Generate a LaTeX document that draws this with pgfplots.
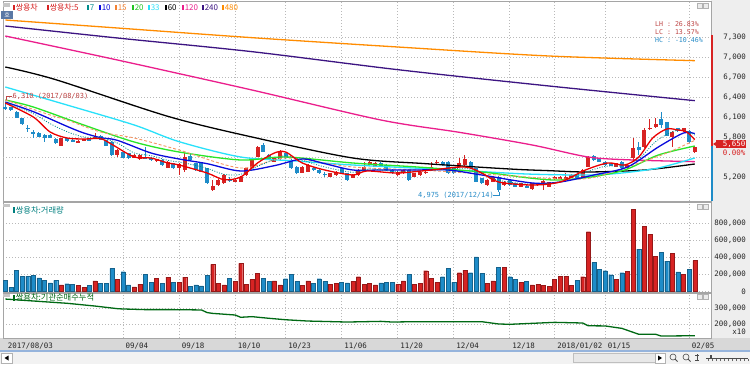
\documentclass[border=0pt]{standalone}
\usepackage{pgfplots}
\pgfplotsset{compat=1.18}
\usepackage{pgfplotstable}
\usepackage{fontspec}
\setmainfont{DejaVu Sans}
\newfontfamily\kr{Noto Sans CJK KR}
\newfontfamily\mono{DejaVu Sans Mono}
\newcommand{\fsz}[1]{\fontsize{#1}{#1}\selectfont}
\definecolor{upred}{RGB}{215,35,35}
\definecolor{dnblue}{RGB}{30,140,200}
\definecolor{ma5}{RGB}{235,0,0}
\definecolor{ma7}{RGB}{0,140,140}
\definecolor{ma10}{RGB}{10,10,220}
\definecolor{ma15}{RGB}{245,150,100}
\definecolor{leg15}{RGB}{245,130,50}
\definecolor{ma20}{RGB}{40,230,40}
\definecolor{ma33}{RGB}{40,225,250}
\definecolor{ma120}{RGB}{235,30,140}
\definecolor{ma240}{RGB}{60,20,130}
\definecolor{ma480}{RGB}{255,140,0}
\definecolor{cumgreen}{RGB}{0,105,20}
\definecolor{gridc}{RGB}{185,185,185}
\definecolor{panelline}{RGB}{165,165,165}
\definecolor{rightbg}{RGB}{238,238,238}
\definecolor{bandbg}{RGB}{216,216,216}
\definecolor{annred}{RGB}{190,70,70}
\definecolor{annblue}{RGB}{40,140,200}
\definecolor{titleteal}{RGB}{0,128,128}
\definecolor{blueline}{RGB}{150,180,220}
\definecolor{scrollbg}{RGB}{242,242,242}
\definecolor{trackbg}{RGB}{232,232,232}
\definecolor{hobg}{RGB}{90,120,165}

\pgfplotstableread{
i o h l c v u
0 6255 6310 6210 6220 130000 0
1 6245 6255 6195 6205 51000 0
2 6180 6190 6080 6090 248000 0
3 6080 6090 5980 5990 177000 0
4 5940 5980 5880 5920 177000 0
5 5870 5905 5790 5840 189000 0
6 5855 5870 5795 5805 161000 0
7 5830 5840 5730 5790 130000 0
8 5830 5840 5780 5790 102000 0
9 5765 5780 5695 5705 130000 0
10 5670 5790 5660 5780 79000 1
11 5780 5790 5730 5740 91000 0
12 5755 5765 5720 5730 87000 0
13 5720 5760 5710 5745 71000 1
14 5740 5775 5735 5765 47000 1
15 5765 5775 5740 5745 71000 0
16 5770 5855 5765 5805 126000 1
17 5820 5830 5750 5755 95000 0
18 5755 5760 5660 5670 95000 0
19 5730 5740 5520 5530 272000 0
20 5530 5625 5505 5605 142000 1
21 5570 5580 5480 5490 232000 0
22 5555 5565 5470 5480 79000 0
23 5490 5545 5480 5530 55000 1
24 5470 5540 5460 5530 87000 1
25 5505 5655 5470 5480 205000 0
26 5490 5500 5445 5455 110000 0
27 5440 5475 5430 5465 154000 1
28 5455 5465 5370 5380 99000 0
29 5340 5440 5330 5430 169000 1
30 5405 5415 5320 5330 110000 0
31 5330 5410 5230 5395 110000 1
32 5305 5555 5280 5495 169000 1
33 5515 5545 5445 5455 59000 0
34 5405 5415 5295 5305 79000 0
35 5405 5420 5270 5280 67000 0
36 5330 5340 5090 5105 193000 0
37 5005 5155 4995 5065 319000 1
38 5080 5170 5070 5155 95000 1
39 5105 5240 5095 5230 79000 1
40 5165 5205 5130 5145 154000 0
41 5130 5165 5120 5155 122000 1
42 5130 5215 5120 5205 331000 1
43 5230 5340 5220 5330 87000 1
44 5330 5480 5320 5465 142000 1
45 5505 5665 5495 5655 213000 1
46 5680 5705 5570 5580 158000 0
47 5530 5545 5455 5465 118000 0
48 5430 5490 5420 5480 126000 1
49 5465 5605 5455 5580 79000 1
50 5555 5565 5470 5480 150000 0
51 5455 5465 5320 5330 205000 0
52 5355 5365 5245 5255 118000 0
53 5265 5365 5255 5355 71000 1
54 5280 5390 5270 5380 126000 1
55 5330 5345 5290 5305 95000 0
56 5305 5315 5245 5255 150000 0
57 5250 5280 5205 5240 118000 0
58 5205 5265 5195 5255 87000 1
59 5230 5290 5220 5280 95000 1
60 5330 5340 5245 5255 106000 0
61 5255 5265 5145 5155 102000 0
62 5190 5245 5180 5230 118000 1
63 5230 5315 5220 5300 173000 1
64 5305 5430 5295 5355 87000 1
65 5380 5440 5370 5430 95000 1
66 5355 5420 5345 5405 79000 1
67 5405 5420 5355 5365 102000 0
68 5380 5390 5295 5305 110000 0
69 5305 5315 5245 5255 110000 0
70 5230 5290 5220 5280 83000 1
71 5255 5315 5245 5305 126000 1
72 5305 5315 5145 5155 205000 0
73 5205 5265 5195 5255 83000 1
74 5230 5290 5220 5280 95000 1
75 5255 5290 5245 5280 244000 1
76 5305 5430 5295 5355 158000 1
77 5405 5455 5390 5430 106000 1
78 5430 5440 5370 5380 173000 0
79 5430 5440 5245 5255 268000 0
80 5330 5340 5245 5255 106000 0
81 5355 5480 5345 5415 221000 1
82 5380 5530 5370 5465 252000 1
83 5430 5440 5320 5330 221000 0
84 5330 5340 5120 5130 406000 0
85 5180 5190 5095 5105 213000 0
86 5080 5165 5070 5155 95000 1
87 5130 5215 5120 5205 126000 1
88 5205 5215 4975 5005 280000 0
89 5080 5140 5070 5130 284000 1
90 5155 5165 5070 5080 173000 0
91 5105 5115 5045 5055 142000 0
92 5055 5115 5045 5105 106000 1
93 5060 5075 5040 5050 118000 0
94 5020 5115 5010 5105 79000 1
95 5080 5115 5070 5105 83000 1
96 5105 5150 5005 5140 75000 1
97 5055 5130 5045 5120 63000 1
98 5170 5215 5160 5205 142000 1
99 5180 5215 5170 5205 181000 1
100 5180 5255 5155 5195 181000 1
101 5190 5240 5180 5230 71000 1
102 5230 5240 5170 5180 130000 0
103 5205 5315 5195 5305 173000 1
104 5355 5515 5345 5505 701000 1
105 5520 5530 5445 5455 339000 0
106 5480 5490 5420 5430 260000 0
107 5430 5440 5370 5380 244000 0
108 5405 5415 5360 5370 197000 0
109 5355 5415 5345 5405 142000 1
110 5430 5440 5320 5330 221000 0
111 5330 5390 5320 5380 236000 1
112 5480 5790 5430 5630 961000 1
113 5655 5730 5530 5605 496000 0
114 5655 5930 5640 5905 764000 1
115 5920 6070 5905 5940 674000 1
116 5955 6080 5930 5990 410000 1
117 6070 6180 5930 5980 457000 0
118 6020 6030 5810 5820 355000 0
119 5805 5890 5655 5880 449000 1
120 5930 5940 5880 5890 229000 0
121 5890 5940 5880 5930 205000 1
122 5890 5900 5710 5720 260000 0
123 5570 5660 5560 5650 363000 1
}\candles

\pgfplotsset{
  panel/.style={
    scale only axis, anchor=south west, width=708bp,
    xmin=-0.41, xmax=125.9,
    axis line style={draw=panelline, line width=0.6bp},
    major tick length=0pt,
    xtick={21,31,41,50,60,70,80,90,98,107,122},
    xticklabels={},
    xmajorgrids, ymajorgrids,
    grid style={gridc, line width=0.6bp, dash pattern=on 1bp off 2bp},
    yticklabel pos=right,
    scaled y ticks=false,
    yticklabel style={font=\mono\fsz{7.5}, text=black!85, anchor=east, inner sep=0pt, xshift=35bp,
      /pgf/number format/.cd, fixed, precision=0, 1000 sep={,}, assume math mode=true},
  },
  upbar/.style={error bars/.cd, y dir=both, y explicit, error mark=none,
      error bar style={draw=upred, line width=#1}},
  dnbar/.style={error bars/.cd, y dir=both, y explicit, error mark=none,
      error bar style={draw=dnblue, line width=#1}},
}

\begin{document}
\begin{tikzpicture}[x=1bp,y=1bp]
\path[use as bounding box] (0,0) rectangle (750,364);
\fill[white] (0,0) rectangle (750,364);
\fill[rightbg] (711,26) rectangle (750,364);
\fill[bandbg] (0,14) rectangle (750,26);
\fill[blueline] (0,12) rectangle (750,14);
\fill[scrollbg] (0,0) rectangle (750,12);

% ---------------- price panel
\begin{axis}[panel, at={(3bp,163bp)}, height=200bp, ymin=4840, ymax=7840,
  ytick={5200,5800,6100,6400,6700,7000,7300},
  extra y ticks={5500}, extra y tick labels={}, extra y tick style={grid=major}]
\addplot[draw=none, mark=none, forget plot, restrict expr to domain={\thisrow{u}}{0.5:1.5}, upbar=0.9bp]
  table[x=i, y expr={(\thisrow{h}+\thisrow{l})/2}, y error expr={(\thisrow{h}-\thisrow{l})/2}]{\candles};
\addplot[draw=none, mark=none, forget plot, restrict expr to domain={\thisrow{u}}{-0.5:0.5}, dnbar=0.9bp]
  table[x=i, y expr={(\thisrow{h}+\thisrow{l})/2}, y error expr={(\thisrow{h}-\thisrow{l})/2}]{\candles};
\addplot[draw=none, mark=none, forget plot, restrict expr to domain={\thisrow{u}}{0.5:1.5}, upbar=4bp]
  table[x=i, y expr={(\thisrow{o}+\thisrow{c})/2}, y error expr={max(abs(\thisrow{o}-\thisrow{c})/2,6)}]{\candles};
\addplot[draw=none, mark=none, forget plot, restrict expr to domain={\thisrow{u}}{-0.5:0.5}, dnbar=4bp]
  table[x=i, y expr={(\thisrow{o}+\thisrow{c})/2}, y error expr={max(abs(\thisrow{o}-\thisrow{c})/2,6)}]{\candles};
% moving averages
\addplot[ma480, line width=1.3bp, smooth] coordinates {(0,7555) (20,7435) (44,7290) (70,7150) (97,7015) (123,6945)};
\addplot[ma240, line width=1.3bp, smooth] coordinates {(0,7465) (20,7285) (44,7080) (70,6810) (97,6565) (123,6345)};
\addplot[ma120, line width=1.3bp, smooth] coordinates {(0,7315) (20,6955) (44,6505) (67,6055) (81,5870) (94,5680) (104,5500) (112,5455) (123,5430)};
\addplot[black, line width=1.3bp, smooth] coordinates {(0,6850) (9,6660) (29,6110) (44,5800) (62,5485) (75,5400) (90,5320) (97,5295) (104,5275) (114,5305) (123,5395)};
\addplot[ma33, line width=1.3bp, smooth] coordinates {(0,6550) (11,6280) (23,5980) (31,5730) (42,5500) (52,5440) (62,5380) (80,5305) (93,5245) (104,5230) (110,5260) (116.5,5335) (123,5485)};
\addplot[ma20, line width=1.3bp, smooth] coordinates {(0,6355) (5,6250) (14,5980) (23,5725) (31,5575) (42,5455) (50,5500) (62,5410) (73.5,5350) (85,5275) (93.5,5185) (98.5,5155) (104.5,5200) (110.5,5305) (116.5,5530) (123,5665)};
\addplot[ma15, line width=0.9bp, dash pattern=on 3bp off 2bp, smooth] coordinates {(0,6355) (8,6130) (11,6055) (17,5875) (23,5785) (31,5605) (42,5335) (50,5485) (62,5350) (75,5300) (88,5230) (98,5175) (104.5,5185) (112,5380) (118,5560) (123,5750)};
\addplot[ma10, line width=1.3bp, smooth] coordinates {(0,6325) (5,6180) (11,5960) (14,5860) (17,5790) (20,5750) (26,5560) (31,5470) (36,5400) (42,5290) (48,5370) (53,5470) (57,5400) (62,5305) (67,5305) (73,5305) (79,5305) (85,5230) (94,5110) (99,5125) (105,5230) (111,5350) (116.5,5650) (121,5860) (123,5850)};
\addplot[ma7, line width=0.8bp, dash pattern=on 1bp off 1.5bp, smooth] coordinates {(0,6320) (5,6150) (8,6000) (11,5880) (14,5800) (17,5790) (20,5710) (23,5560) (26,5520) (29,5450) (32,5410) (36,5330) (39,5240) (42,5240) (45,5360) (48,5460) (50,5520) (53,5450) (57,5350) (62,5270) (65,5320) (70,5280) (76,5300) (82,5330) (85,5250) (88,5150) (94,5090) (99,5130) (103,5260) (107,5360) (110,5370) (113,5470) (116,5730) (119,5880) (121,5900) (123,5830)};
\addplot[ma5, line width=1.3bp, smooth] coordinates {(0,6310) (5,6100) (8,5875) (11,5785) (14,5770) (17,5775) (19,5690) (23,5500) (26,5485) (29,5410) (31,5380) (36,5260) (39,5160) (42,5200) (45,5410) (48,5560) (50,5575) (53,5410) (57,5305) (62,5230) (64.5,5290) (70,5260) (76,5305) (82,5350) (85,5260) (88,5125) (94,5080) (99,5125) (103.5,5305) (107.5,5410) (110.5,5380) (113,5500) (115.5,5785) (118,5920) (120,5905) (121.5,5880) (123,5760)};
\end{axis}

% ---------------- volume panel
\begin{axis}[panel, at={(3bp,72bp)}, height=90bp, ymin=-6000, ymax=1050000,
  ytick={0,200000,400000,600000,800000}]
\addplot[ybar, bar width=4bp, bar shift=0pt, fill=upred, draw=upred!70!black, line width=0.3bp,
  restrict expr to domain={\thisrow{u}}{0.5:1.5}] table[x=i, y=v]{\candles};
\addplot[ybar, bar width=4bp, bar shift=0pt, fill=dnblue, draw=dnblue!70!black, line width=0.3bp,
  restrict expr to domain={\thisrow{u}}{-0.5:0.5}] table[x=i, y=v]{\candles};
\end{axis}

% ---------------- cumulative panel
\begin{axis}[panel, at={(3bp,26bp)}, height=45bp, ymin=116000, ymax=392000,
  ytick={200000,300000},
  xticklabels={09/04,09/18,10/10,10/23,11/06,11/20,12/04,12/18,2018/01/02,01/15,02/05},
  xticklabel style={font=\mono\fsz{7.5}, text=black!85, anchor=north west, inner sep=0pt, xshift=2.5bp, yshift=-5bp},
  extra x ticks={0}, extra x tick labels={2017/08/03}, extra x tick style={grid=none}]
\addplot[cumgreen, line width=1.3bp] coordinates {(0,355000) (5,343000) (11,329000) (16,312000) (20,296000) (21,294000) (25,290000) (30,290000) (35,288000) (36,272000) (37,267000) (41,257000) (42,243000) (44,247000) (47,237000) (50,228000) (54,220000) (61,214000) (67,218000) (69,214000) (73,216000) (85,216000) (88,202000) (90,200000) (94,206000) (98,212000) (103,208000) (104,191000) (107,190000) (110,175000) (113,139000) (116,139000) (117,128000) (123,130000)};
\end{axis}

% ---------------- decorations
\fill[upred] (711,218) rectangle (713,329);
\fill[dnblue] (711,163) rectangle (713,218);
\fill[upred] (716,216) rectangle (746,224);
\node[anchor=east, inner sep=0, text=white, font=\mono\fsz{7.5}] at (745.5,220) {5,650};
\node[anchor=east, inner sep=0, text=upred, font=\mono\fsz{7.5}] at (745.5,211.5) {0.00\%};
\fill[upred] (713,220) -- (717.5,223) -- (717.5,217) -- cycle;

\node[anchor=west, inner sep=0, text=annred, font=\mono\fsz{6.6}] at (655,339.5) {LH :  26.83\%};
\node[anchor=west, inner sep=0, text=annred, font=\mono\fsz{6.6}] at (655,332) {LC :  13.57\%};
\node[anchor=west, inner sep=0, text=annblue, font=\mono\fsz{6.6}] at (655,324) {HC : -10.46\%};

\node[anchor=west, inner sep=0, text=annred, font=\mono\fsz{7}] at (12.5,268) {6,310 (2017/08/03)};
\draw[annred, line width=0.7bp] (12,268) -- (6,268) -- (6,264.5);
\node[anchor=west, inner sep=0, text=annblue, font=\mono\fsz{7}] at (418,168.5) {4,975 (2017/12/14)};
\draw[annblue, line width=0.7bp] (493,168.5) -- (499,168.5) -- (499,172);

% legend row
\newcommand{\legitem}[3]{\fill[#2] (#1,353.5) rectangle ++(1.8,5.5);
  \node[anchor=west, inner sep=0, text=#2, font=\kr\fsz{8}] at (#1+2.6,356) {#3};}
\legitem{13}{upred}{쌍용차}
\legitem{47}{upred}{쌍용차:5}
\legitem{87}{ma7}{7}
\legitem{99}{ma10}{10}
\legitem{115}{leg15}{15}
\legitem{132}{ma20!85!black}{20}
\legitem{148}{ma33}{33}
\legitem{165}{black}{60}
\legitem{182}{ma120}{120}
\legitem{202}{ma240}{240}
\legitem{222}{ma480}{480}
\fill[gray!45] (3,357) rectangle (10,361);
\fill[hobg] (1.5,345) rectangle (13,352.5);
\node[inner sep=0, text=white, font=\kr\fsz{6}] at (7.2,348.7) {호};
% panel titles
\fill[gray!45] (3,157) rectangle (10,160);
\fill[titleteal] (13,151.5) rectangle ++(1.8,5.5);
\node[anchor=west, inner sep=0, text=titleteal, font=\kr\fsz{8.3}] at (15.6,154) {쌍용차:거래량};
\fill[gray!45] (3,67) rectangle (10,70);
\fill[cumgreen] (13,63.5) rectangle ++(1.8,5.5);
\node[anchor=west, inner sep=0, text=cumgreen, font=\kr\fsz{8.3}] at (15.6,66.5) {쌍용차:기관순매수누적};
% small window buttons
\foreach \yy in {356,155,65}{
  \draw[gray!60, fill=gray!15, line width=0.4bp] (697,\yy) rectangle (702,\yy+5);
  \draw[gray!60, fill=gray!15, line width=0.4bp] (703,\yy) rectangle (708,\yy+5);
}
\node[anchor=east, inner sep=0, text=black!85, font=\mono\fsz{7.5}] at (746,32) {x10};
% scroll bar
\draw[gray!60, fill=white, line width=0.4bp] (1.5,1) rectangle (12,11);
\fill[black] (4.5,6) -- (8.5,8.5) -- (8.5,3.5) -- cycle;
\draw[gray!50, fill=trackbg, line width=0.4bp] (573,1.5) rectangle (655,10.5);
\draw[gray!60, fill=white, line width=0.4bp] (655,1) rectangle (665,11);
\fill[black] (662,6) -- (658,8.5) -- (658,3.5) -- cycle;
\draw[black!70, line width=0.6bp] (673,7) circle (3);
\draw[black!70, line width=0.8bp] (675,5) -- (677.5,2.5);
\draw[black!70, line width=0.6bp] (686,7) circle (3);
\draw[black!70, line width=0.8bp] (688,5) -- (690.5,2.5);
\draw[black!70, line width=0.5bp] (695,9) -- (699,9) (695,4) -- (699,4) (697,3) -- (697,10);
\draw[black!70, line width=0.5bp] (706,6) -- (748,6);
\foreach \xx in {708,712,...,748} \draw[black!60, line width=0.4bp] (\xx,3) -- (\xx,5);
\fill[black!70] (710,5) rectangle (712,9);
\end{tikzpicture}
\end{document}
